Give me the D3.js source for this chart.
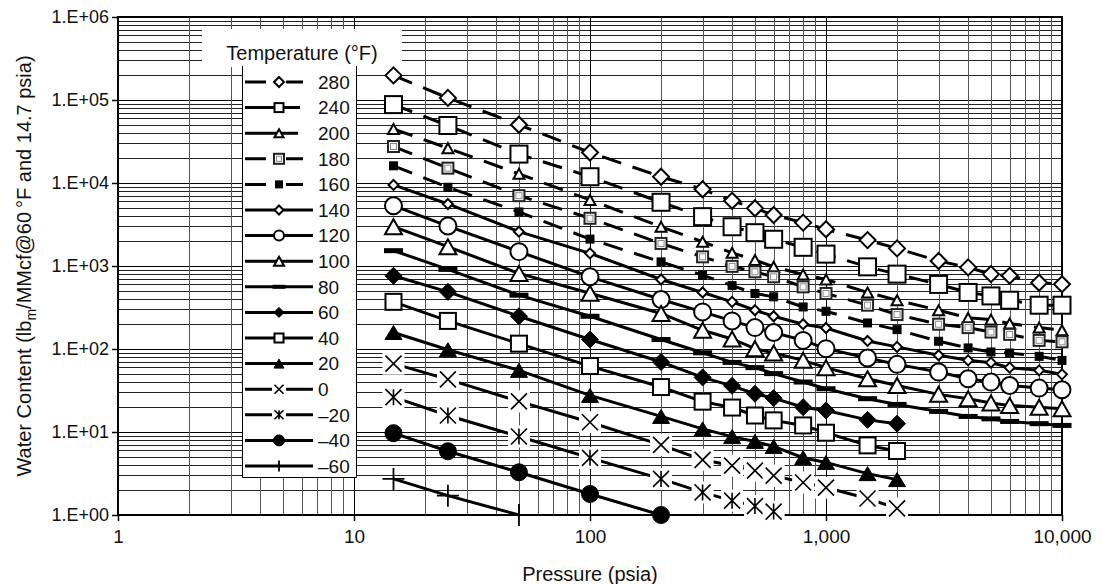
<!DOCTYPE html>
<html><head><meta charset="utf-8">
<script src="https://cdn.jsdelivr.net/npm/d3@7"></script>
<style>
body{margin:0;background:#fff}
svg{display:block}
text{font-family:"Liberation Sans",Arial,Helvetica,sans-serif;fill:#111}
</style>
</head><body>
<svg id="chart" width="1102" height="584"></svg>
<script>
// ---------------- data ----------------
const pressures = [14.7, 25, 50, 100, 200, 300, 400, 500, 600, 800, 1000, 1500, 2000, 3000, 4000, 5000, 6000, 8000, 10000];
const xTickValues = [1, 10, 100, 1000, 10000];
const xTickLabels = ["1", "10", "100", "1,000", "10,000"];
const yTickValues = [1, 10, 100, 1000, 10000, 100000, 1000000];
const yTickLabels = ["1.E+00", "1.E+01", "1.E+02", "1.E+03", "1.E+04", "1.E+05", "1.E+06"];
const temperatures = ["280", "240", "200", "180", "160", "140", "120", "100", "80", "60", "40", "20", "0", "\u201320", "\u201340", "\u201360"];

const w280 = [198000, 106000, 50300, 23300, 11900, 8400, 6100, 4960, 4120, 3330, 2770, 2050, 1630, 1150, 962, 798, 762, 627, 604];
const w240 = [88000, 49300, 22300, 11900, 5860, 3930, 2970, 2520, 2100, 1680, 1390, 977, 798, 600, 480, 436, 387, 337, 337];
const w200 = [44700, 26300, 12900, 6250, 2970, 1960, 1440, 1180, 977, 791, 688, 480, 387, 293, 237, 226, 203, 181, 168];
const w180 = [27500, 15100, 7040, 3760, 1870, 1290, 990, 851, 741, 561, 467, 337, 260, 199, 181, 160, 150, 127, 122];
const w160 = [16100, 8890, 4480, 2110, 1120, 776, 580, 467, 425, 321, 285, 206, 171, 124, 103, 92, 89.5, 81.6, 73];
const w140 = [9480, 5590, 2590, 1420, 688, 480, 370, 293, 248, 199, 179, 125, 106, 84, 73, 68.5, 59.6, 55.3, 49.5];
const w120 = [5330, 3030, 1490, 741, 395, 280, 218, 181, 158, 127, 101, 77.9, 65.3, 52.7, 43.8, 39.9, 36.4, 33.8, 32.3];
const w100 = [2980, 1710, 814, 470, 268, 168, 132, 101, 89.5, 73, 59.6, 43.9, 36.4, 28.4, 25.2, 22.3, 20.9, 19.9, 19.1];
const w80  = [1530, 910, 445, 248, 130, 90, 69, 59.6, 50.5, 40, 33.2, 25.2, 21.5, 17.7, 15.4, 14.4, 13.4, 12.6, 12.0];
const w60  = [762, 488, 248, 130, 69.7, 45.5, 36, 28.9, 25.6, 19.9, 18.2, 14.0, 12.6];
const w40  = [370, 218, 116, 62.3, 34.8, 23.2, 19.7, 15.8, 13.8, 12.0, 9.8, 6.9, 5.9];
const w20  = [158, 98, 55.3, 27.6, 15.4, 10.9, 8.8, 7.7, 6.7, 4.9, 4.3, 3.15, 2.67];
const w0   = [66.6, 43, 23.4, 13.1, 7.0, 4.62, 3.94, 3.43, 2.98, 2.46, 2.14, 1.58, 1.2];
const wm20 = [26.3, 15.8, 8.83, 4.88, 2.72, 1.87, 1.49, 1.28, 1.1];
const wm40 = [9.68, 5.86, 3.27, 1.79, 1.0];
const wm60 = [2.72, 1.71, 1.0];

const seriesValues = [w280, w240, w200, w180, w160, w140, w120, w100, w80, w60, w40, w20, w0, wm20, wm40, wm60];

// ---------------- styles ----------------
const styles = [
  {m:"diamond", fill:"#fff", sz:{r:8}, lsz:{r:5}, dash:true, lend:303},
  {m:"square", fill:"#fff", sz:{s:17}, lsz:{s:9}, dash:true, lend:300, lsolid:true},
  {m:"triangle", fill:"#fff", sz:{w:11,h:10}, lsz:{w:9,h:8}, dash:true, lend:298, lsolid:true},
  {m:"square2", fill:"#fff", sz:{s:11}, lsz:{s:10}, dash:true, lend:303},
  {m:"square", fill:"#000", sz:{s:8}, lsz:{s:7}, dash:true, lend:303},
  {m:"diamond", fill:"#fff", sz:{r:5}, lsz:{r:4.5}, lend:313},
  {m:"circle", fill:"#fff", sz:{r:8.5}, lsz:{r:5}, lend:313},
  {m:"triangle", fill:"#fff", sz:{w:17,h:15}, lsz:{w:10,h:9}, lend:313},
  {m:"dashmark", fill:"#000", sz:{w:19,h:5}, lsz:{w:13,h:4}, lend:313},
  {m:"diamond", fill:"#000", sz:{r:8.5}, lsz:{r:5}, lend:313},
  {m:"square", fill:"#fff", sz:{s:16}, lsz:{s:9}, lend:313},
  {m:"triangle", fill:"#000", sz:{w:17,h:14}, lsz:{w:10,h:9}, lend:313},
  {m:"x", fill:"#fff", sz:{s:16, box:22}, lsz:{s:9, box:14}, lend:313},
  {m:"asterisk", fill:"#fff", sz:{s:16, box:22}, lsz:{s:9, box:14}, lend:313},
  {m:"circle", fill:"#000", sz:{r:8.5}, lsz:{r:5.5}, lend:313},
  {m:"plus", fill:"none", sz:{s:22}, lsz:{s:11}, lend:313}
];

const series = temperatures.map((t, i) => ({
  label: t,
  style: styles[i],
  points: seriesValues[i].map((v, j) => ({p: pressures[j], w: v}))
}));

// ---------------- chart ----------------
const W = 1102, H = 584;
const svg = d3.select("#chart");
const x = d3.scaleLog().domain([1, 10000]).range([118, 1062]);
const y = d3.scaleLog().domain([1, 1000000]).range([515, 17]);

// grid
const grid = svg.append("g");
const xMinor = [], yMinor = [];
for (let k = 0; k < 4; k++) for (let m = 2; m <= 9; m++) xMinor.push(m * Math.pow(10, k));
for (let k = 0; k < 6; k++) for (let m = 2; m <= 9; m++) yMinor.push(m * Math.pow(10, k));
grid.selectAll(".hm").data(yMinor).join("line")
  .attr("x1", x(1)).attr("x2", x(10000))
  .attr("y1", d => Math.round(y(d)) + 0.5).attr("y2", d => Math.round(y(d)) + 0.5)
  .attr("stroke", "#222").attr("stroke-width", 1);
grid.selectAll(".hM").data(yTickValues).join("line")
  .attr("x1", x(1)).attr("x2", x(10000))
  .attr("y1", d => Math.round(y(d)) + 0.5).attr("y2", d => Math.round(y(d)) + 0.5)
  .attr("stroke", "#000").attr("stroke-width", 1);
grid.selectAll(".vm").data(xMinor).join("line")
  .attr("y1", y(1)).attr("y2", y(1000000))
  .attr("x1", d => Math.round(x(d)) + 0.5).attr("x2", d => Math.round(x(d)) + 0.5)
  .attr("stroke", "#555").attr("stroke-width", 1);
grid.selectAll(".vM").data(xTickValues).join("line")
  .attr("y1", y(1)).attr("y2", y(1000000))
  .attr("x1", d => Math.round(x(d)) + 0.5).attr("x2", d => Math.round(x(d)) + 0.5)
  .attr("stroke", "#000").attr("stroke-width", 1);

// legend background
const leg = svg.append("g");
const legLeft = 242, legRight = 356, legTop = 66, legBottom = 477;
leg.append("rect").attr("x", 202).attr("y", 29).attr("width", 200).attr("height", 38).attr("fill", "#fff");
leg.append("rect").attr("x", legLeft).attr("y", legTop).attr("width", legRight - legLeft).attr("height", legBottom - legTop).attr("fill", "#fff");
leg.append("path").attr("d", `M${legLeft+0.5},${legTop}V${legBottom+0.5}H${legRight+0.5}V${legTop}`)
  .attr("fill", "none").attr("stroke", "#000").attr("stroke-width", 1);
leg.append("text").attr("x", 302).attr("y", 60).attr("text-anchor", "middle")
  .attr("font-size", 20).text("Temperature (\u00B0F)");

// frame, axes
svg.append("rect").attr("x", x(1)).attr("y", y(1000000)).attr("width", x(10000) - x(1)).attr("height", y(1) - y(1000000))
  .attr("fill", "none").attr("stroke", "#000").attr("stroke-width", 2);

const xAxis = d3.axisBottom(x).tickValues(xTickValues).tickFormat((d, i) => xTickLabels[i]).tickSize(6).tickPadding(9);
const gx = svg.append("g").attr("transform", `translate(0,${y(1)})`).call(xAxis);
gx.select(".domain").remove();
gx.selectAll(".tick line").attr("stroke", "#000").attr("stroke-width", 1.5);
gx.selectAll(".tick text").attr("font-size", 19).attr("font-family", null).attr("fill", "#111");

const yAxis = d3.axisLeft(y).tickValues(yTickValues).tickFormat((d, i) => yTickLabels[i]).tickSize(6).tickPadding(3);
const gy = svg.append("g").attr("transform", `translate(${x(1)},0)`).call(yAxis);
gy.select(".domain").remove();
gy.selectAll(".tick line").attr("stroke", "#000").attr("stroke-width", 1.5);
gy.selectAll(".tick text").attr("font-size", 18).attr("font-family", null).attr("fill", "#111");

svg.append("text").attr("x", (x(1) + x(10000)) / 2).attr("y", 581).attr("text-anchor", "middle")
  .attr("font-size", 20).text("Pressure (psia)");
const yt = svg.append("text").attr("transform", `translate(31,${(y(1) + y(1000000)) / 2}) rotate(-90)`)
  .attr("text-anchor", "middle").attr("font-size", 20);
yt.append("tspan").text("Water Content (lb");
yt.append("tspan").attr("font-size", 14).attr("dy", 5).text("m");
yt.append("tspan").attr("dy", -5).text("/MMcf@60\u2009\u00B0F and 14.7 psia)");

// marker drawing
function drawMarker(g, type, fill, sz, cx, cy) {
  const sw = 2;
  if (type === "diamond") {
    g.append("path").attr("d", `M${cx},${cy - sz.r}L${cx + sz.r},${cy}L${cx},${cy + sz.r}L${cx - sz.r},${cy}Z`)
      .attr("fill", fill).attr("stroke", "#000").attr("stroke-width", fill === "#000" ? 1 : sw);
  } else if (type === "square") {
    g.append("rect").attr("x", cx - sz.s / 2).attr("y", cy - sz.s / 2).attr("width", sz.s).attr("height", sz.s)
      .attr("fill", fill).attr("stroke", "#000").attr("stroke-width", fill === "#000" ? 1 : sw);
  } else if (type === "square2") {
    g.append("rect").attr("x", cx - sz.s / 2).attr("y", cy - sz.s / 2).attr("width", sz.s).attr("height", sz.s)
      .attr("fill", "#fff").attr("stroke", "#222").attr("stroke-width", 2);
    g.append("rect").attr("x", cx - sz.s / 2 + 2.5).attr("y", cy - sz.s / 2 + 2.5).attr("width", sz.s - 5).attr("height", sz.s - 5)
      .attr("fill", "#fff").attr("stroke", "#888").attr("stroke-width", 1);
  } else if (type === "triangle") {
    g.append("path").attr("d", `M${cx},${cy - sz.h / 2}L${cx + sz.w / 2},${cy + sz.h / 2}L${cx - sz.w / 2},${cy + sz.h / 2}Z`)
      .attr("fill", fill).attr("stroke", "#000").attr("stroke-width", fill === "#000" ? 1 : sw).attr("stroke-linejoin", "miter");
  } else if (type === "circle") {
    g.append("circle").attr("cx", cx).attr("cy", cy).attr("r", sz.r)
      .attr("fill", fill).attr("stroke", "#000").attr("stroke-width", fill === "#000" ? 1 : sw);
  } else if (type === "dashmark") {
    g.append("rect").attr("x", cx - sz.w / 2).attr("y", cy - sz.h / 2).attr("width", sz.w).attr("height", sz.h).attr("fill", "#000");
  } else if (type === "x" || type === "asterisk") {
    g.append("rect").attr("x", cx - sz.box / 2).attr("y", cy - sz.box / 2).attr("width", sz.box).attr("height", sz.box).attr("fill", "#fff");
    const h = sz.s / 2;
    g.append("path").attr("d", `M${cx - h},${cy - h}L${cx + h},${cy + h}M${cx - h},${cy + h}L${cx + h},${cy - h}` + (type === "asterisk" ? `M${cx},${cy - h}L${cx},${cy + h}` : ""))
      .attr("stroke", "#000").attr("stroke-width", 1.6).attr("fill", "none");
  } else if (type === "plus") {
    const h = sz.s / 2;
    g.append("path").attr("d", `M${cx - h},${cy}L${cx + h},${cy}M${cx},${cy - h}L${cx},${cy + h}`)
      .attr("stroke", "#000").attr("stroke-width", 1.8).attr("fill", "none");
  }
}

// series lines
const line = d3.line().x(d => x(d.p)).y(d => y(d.w));
const gl = svg.append("g");
series.forEach(s => {
  gl.append("path").datum(s.points).attr("d", line)
    .attr("fill", "none").attr("stroke", "#000").attr("stroke-width", 3)
    .attr("stroke-dasharray", s.style.dash ? "20,12" : null);
});
// markers
const gm = svg.append("g");
series.forEach(s => {
  s.points.forEach(d => drawMarker(gm, s.style.m, s.style.fill, s.style.sz, x(d.p), y(d.w)));
});

// legend entries
const rowY = d3.scalePoint().domain(temperatures).range([82, 466]);
temperatures.forEach((t, i) => {
  const st = styles[i];
  const cy = rowY(t);
  const dashed = st.dash && !st.lsolid;
  leg.append("line").attr("x1", 245).attr("x2", st.lend).attr("y1", cy).attr("y2", cy)
    .attr("stroke", "#000").attr("stroke-width", 3)
    .attr("stroke-dasharray", dashed ? "21,20" : null);
  drawMarker(leg, st.m, st.fill, st.lsz, 279, cy);
  leg.append("text").attr("x", 318).attr("y", cy).attr("dy", "0.36em").attr("font-size", 19).text(t);
});
</script>
</body></html>
